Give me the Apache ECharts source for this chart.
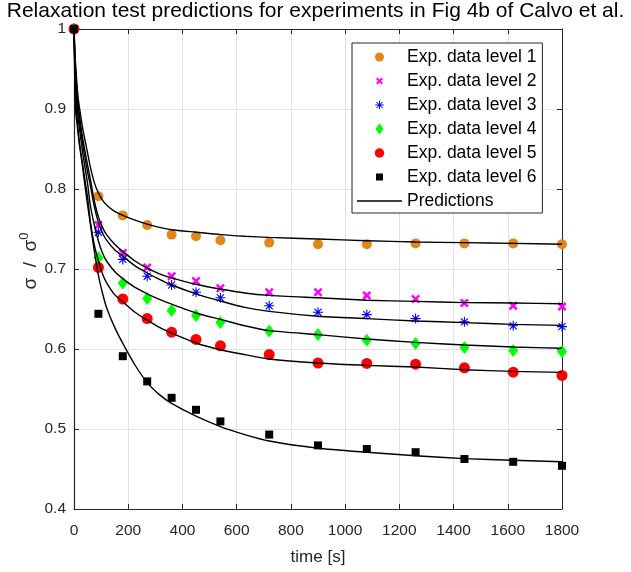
<!DOCTYPE html>
<html><head><meta charset="utf-8">
<script src="https://cdn.jsdelivr.net/npm/echarts@6/dist/echarts.min.js"></script>
<style>html,body{margin:0;padding:0;background:#fff}#c{width:631px;height:572px}</style>
</head><body><div id="c"></div>
<script>
const titleText = 'Relaxation test predictions for experiments in Fig 4b of Calvo et al.';
const xTicks = [0,200,400,600,800,1000,1200,1400,1600,1800];
const yTicks = [0.4,0.5,0.6,0.7,0.8,0.9,1];
const expNames = ['Exp. data level 1','Exp. data level 2','Exp. data level 3','Exp. data level 4','Exp. data level 5','Exp. data level 6'];
const predName = 'Predictions';
const times = [0,90,180,270,360,450,540,720,900,1080,1260,1440,1620,1800];
const level1 = [1,0.791,0.767,0.755,0.743,0.741,0.736,0.733,0.731,0.731,0.732,0.732,0.732,0.731];
const level2 = [1,0.755,0.720,0.702,0.691,0.685,0.676,0.671,0.671,0.667,0.6625,0.6575,0.654,0.653];
const level3 = [1,0.746,0.712,0.691,0.680,0.671,0.664,0.654,0.646,0.643,0.638,0.634,0.629,0.628];
const level4 = [1,0.714,0.6825,0.663,0.648,0.642,0.633,0.6225,0.618,0.611,0.607,0.602,0.598,0.597];
const level5 = [1,0.702,0.6625,0.638,0.621,0.612,0.604,0.593,0.5825,0.582,0.581,0.5765,0.571,0.567];
const level6 = [1,0.644,0.591,0.5595,0.539,0.524,0.5095,0.493,0.4795,0.475,0.471,0.4625,0.459,0.454];
const predTimes = [0,2,5,10,15,20,30,40,50,60,75,90,105,120,150,180,225,270,315,360,450,540,630,720,900,1080,1260,1440,1620,1800];
const pred1 = [1,0.982,0.96,0.935,0.915,0.902,0.88,0.862,0.845,0.828,0.808,0.795,0.786,0.78,0.772,0.767,0.761,0.756,0.752,0.749,0.746,0.743,0.741,0.7395,0.7375,0.7354,0.7337,0.733,0.732,0.731];
const pred2 = [1,0.978,0.955,0.928,0.907,0.892,0.868,0.848,0.83,0.813,0.785,0.765,0.752,0.743,0.731,0.722,0.71,0.701,0.694,0.689,0.681,0.675,0.67,0.667,0.664,0.661,0.6595,0.658,0.6575,0.6566];
const pred3 = [1,0.975,0.95,0.918,0.897,0.884,0.86,0.84,0.821,0.805,0.778,0.758,0.745,0.736,0.724,0.716,0.704,0.695,0.687,0.68,0.669,0.66,0.652,0.647,0.641,0.638,0.635,0.633,0.6308,0.6295];
const pred4 = [1,0.97,0.94,0.905,0.89,0.876,0.85,0.828,0.807,0.78,0.755,0.735,0.72,0.71,0.697,0.688,0.677,0.669,0.662,0.656,0.645,0.637,0.629,0.623,0.618,0.6125,0.6083,0.605,0.6025,0.601];
const pred5 = [1,0.965,0.925,0.895,0.874,0.858,0.835,0.812,0.79,0.76,0.73,0.71,0.694,0.683,0.668,0.659,0.646,0.636,0.627,0.62,0.6075,0.599,0.593,0.5875,0.5825,0.5795,0.5775,0.574,0.572,0.5708];
const pred6 = [1,0.955,0.9,0.885,0.87,0.855,0.832,0.805,0.78,0.757,0.722,0.692,0.67,0.652,0.627,0.607,0.58,0.558,0.543,0.532,0.516,0.503,0.493,0.485,0.476,0.471,0.4666,0.463,0.461,0.459];

const expLevels = [level1,level2,level3,level4,level5,level6];
const preds = [pred1,pred2,pred3,pred4,pred5,pred6];

const circleShape = 'M0 10A10 10 0 1 1 20 10A10 10 0 1 1 0 10Z';
const xShape = 'M0.02 3.98L3.98 0.02L19.98 16.02L16.02 19.98Z M19.98 3.98L3.98 19.98L0.02 16.02L16.02 0.02Z';
const starShape = 'M8.9 0L11.1 0L11.1 20L8.9 20Z M0 8.9L20 8.9L20 11.1L0 11.1Z M2.15 3.71L3.71 2.15L17.85 16.29L16.29 17.85Z M17.85 3.71L3.71 17.85L2.15 16.29L16.29 2.15Z';
const diamondShape = 'M10 0L17.27 10L10 20L2.73 10Z';
const squareShape = 'M0 0L20 0L20 20L0 20Z';
// legend icon inside a 45x14 box, shape drawn at s px
function legendIcon(shape, s){
  const k = s/20, hx = 22.5/k, hy = 7/k;
  return 'path://M'+(10-hx).toFixed(2)+' '+(10-hy).toFixed(2)+'M'+(10+hx).toFixed(2)+' '+(10+hy).toFixed(2)+shape;
}
const markers = [
  {symbol:'circle', size:10, color:'#E0861A', icon:legendIcon(circleShape,9)},
  {symbol:'path://'+xShape, size:9, color:'#FF00FF', icon:legendIcon(xShape,7)},
  {symbol:'path://'+starShape, size:10, color:'#0000FF', icon:legendIcon(starShape,8.5)},
  {symbol:'diamond', size:[10,13], color:'#00FF00', icon:legendIcon(diamondShape,11)},
  {symbol:'circle', size:11, color:'#FF0000', icon:legendIcon(circleShape,9.5)},
  {symbol:'rect', size:8, color:'#000000', icon:legendIcon(squareShape,7)}
];

const series = [];
expLevels.forEach((vals, i) => {
  series.push({
    name: expNames[i], type:'scatter', symbol: markers[i].symbol, symbolSize: markers[i].size,
    itemStyle:{color: markers[i].color, opacity:1}, z: 3, clip:false,
    data: times.map((t, j) => [t, vals[j]])
  });
});
preds.forEach((vals) => {
  series.push({
    name:predName, type:'line', showSymbol:false, symbol:'none', smooth:0.2,
    lineStyle:{color:'#000', width:1.4}, itemStyle:{color:'#000'}, z:4,
    data: predTimes.map((t, j) => [t, vals[j]])
  });
});

const legendData = expNames.map((n, i) => ({name:n, icon:markers[i].icon}));
legendData.push({name:predName, icon:'path://M0 0M45 14M0 6.3L45 6.3L45 7.7L0 7.7Z'});

const axisCol = '#262626';
const chart = echarts.init(document.getElementById('c'), null, {renderer:'canvas'});
chart.setOption({
  animation:false,
  backgroundColor:'#fff',
  textStyle:{fontFamily:'Liberation Sans, Arial, sans-serif'},
  title:{text:titleText, left:'center', top:1, padding:0, textStyle:{fontSize:21, fontWeight:'normal', color:'#000', fontFamily:'Liberation Sans'}},
  grid:{left:74, right:69, top:29, bottom:63, containLabel:false},
  legend:{
    left:352, top:43, orient:'vertical', itemWidth:45, itemHeight:14, itemGap:6,
    padding:[5,6,3,5], borderColor:axisCol, borderWidth:1, backgroundColor:'#fff',
    textStyle:{fontSize:17.5, color:'#000', lineHeight:18, fontFamily:'Liberation Sans'},
    data: legendData, z:10
  },
  xAxis:[{
    type:'value', min:0, max:1800, interval:200, position:'bottom',
    name:'time [s]', nameLocation:'middle', nameGap:40, nameMoveOverlap:false,
    nameTextStyle:{fontSize:17, color:axisCol},
    axisLine:{show:true, onZero:false, lineStyle:{color:axisCol, width:1}},
    axisTick:{show:true, inside:true, length:5, lineStyle:{color:axisCol}},
    axisLabel:{fontSize:15.5, color:axisCol, margin:14, formatter: v => String(v)},
    splitLine:{show:true, lineStyle:{color:'#e3e3e3', width:1}}
  },{
    type:'value', min:0, max:1800, interval:200, position:'top',
    axisLine:{show:true, onZero:false, lineStyle:{color:axisCol, width:1}},
    axisTick:{show:true, inside:true, length:5, lineStyle:{color:axisCol}},
    axisLabel:{show:false}, splitLine:{show:false}
  }],
  yAxis:[{
    type:'value', min:0.4, max:1, interval:0.1, position:'left',
    name:'{a|σ  /  σ}{b|0}', nameLocation:'middle', nameGap:34, nameRotate:90, nameMoveOverlap:false,
    nameTextStyle:{color:axisCol, padding:[0,0,0,16], rich:{a:{fontSize:19, color:axisCol, lineHeight:22, verticalAlign:'bottom'}, b:{fontSize:13, color:axisCol, lineHeight:22, verticalAlign:'top'}}},
    axisLine:{show:true, onZero:false, lineStyle:{color:axisCol, width:1.2}},
    axisTick:{show:true, inside:true, length:5, lineStyle:{color:axisCol}},
    axisLabel:{fontSize:15.5, color:axisCol, margin:8, formatter: v => String(Math.round(v*10)/10)},
    splitLine:{show:true, lineStyle:{color:'#e3e3e3', width:1}}
  },{
    type:'value', min:0.4, max:1, interval:0.1, position:'right',
    axisLine:{show:true, onZero:false, lineStyle:{color:axisCol, width:1}},
    axisTick:{show:true, inside:true, length:5, lineStyle:{color:axisCol}},
    axisLabel:{show:false}, splitLine:{show:false}
  }],
  series: series
});
</script></body></html>
